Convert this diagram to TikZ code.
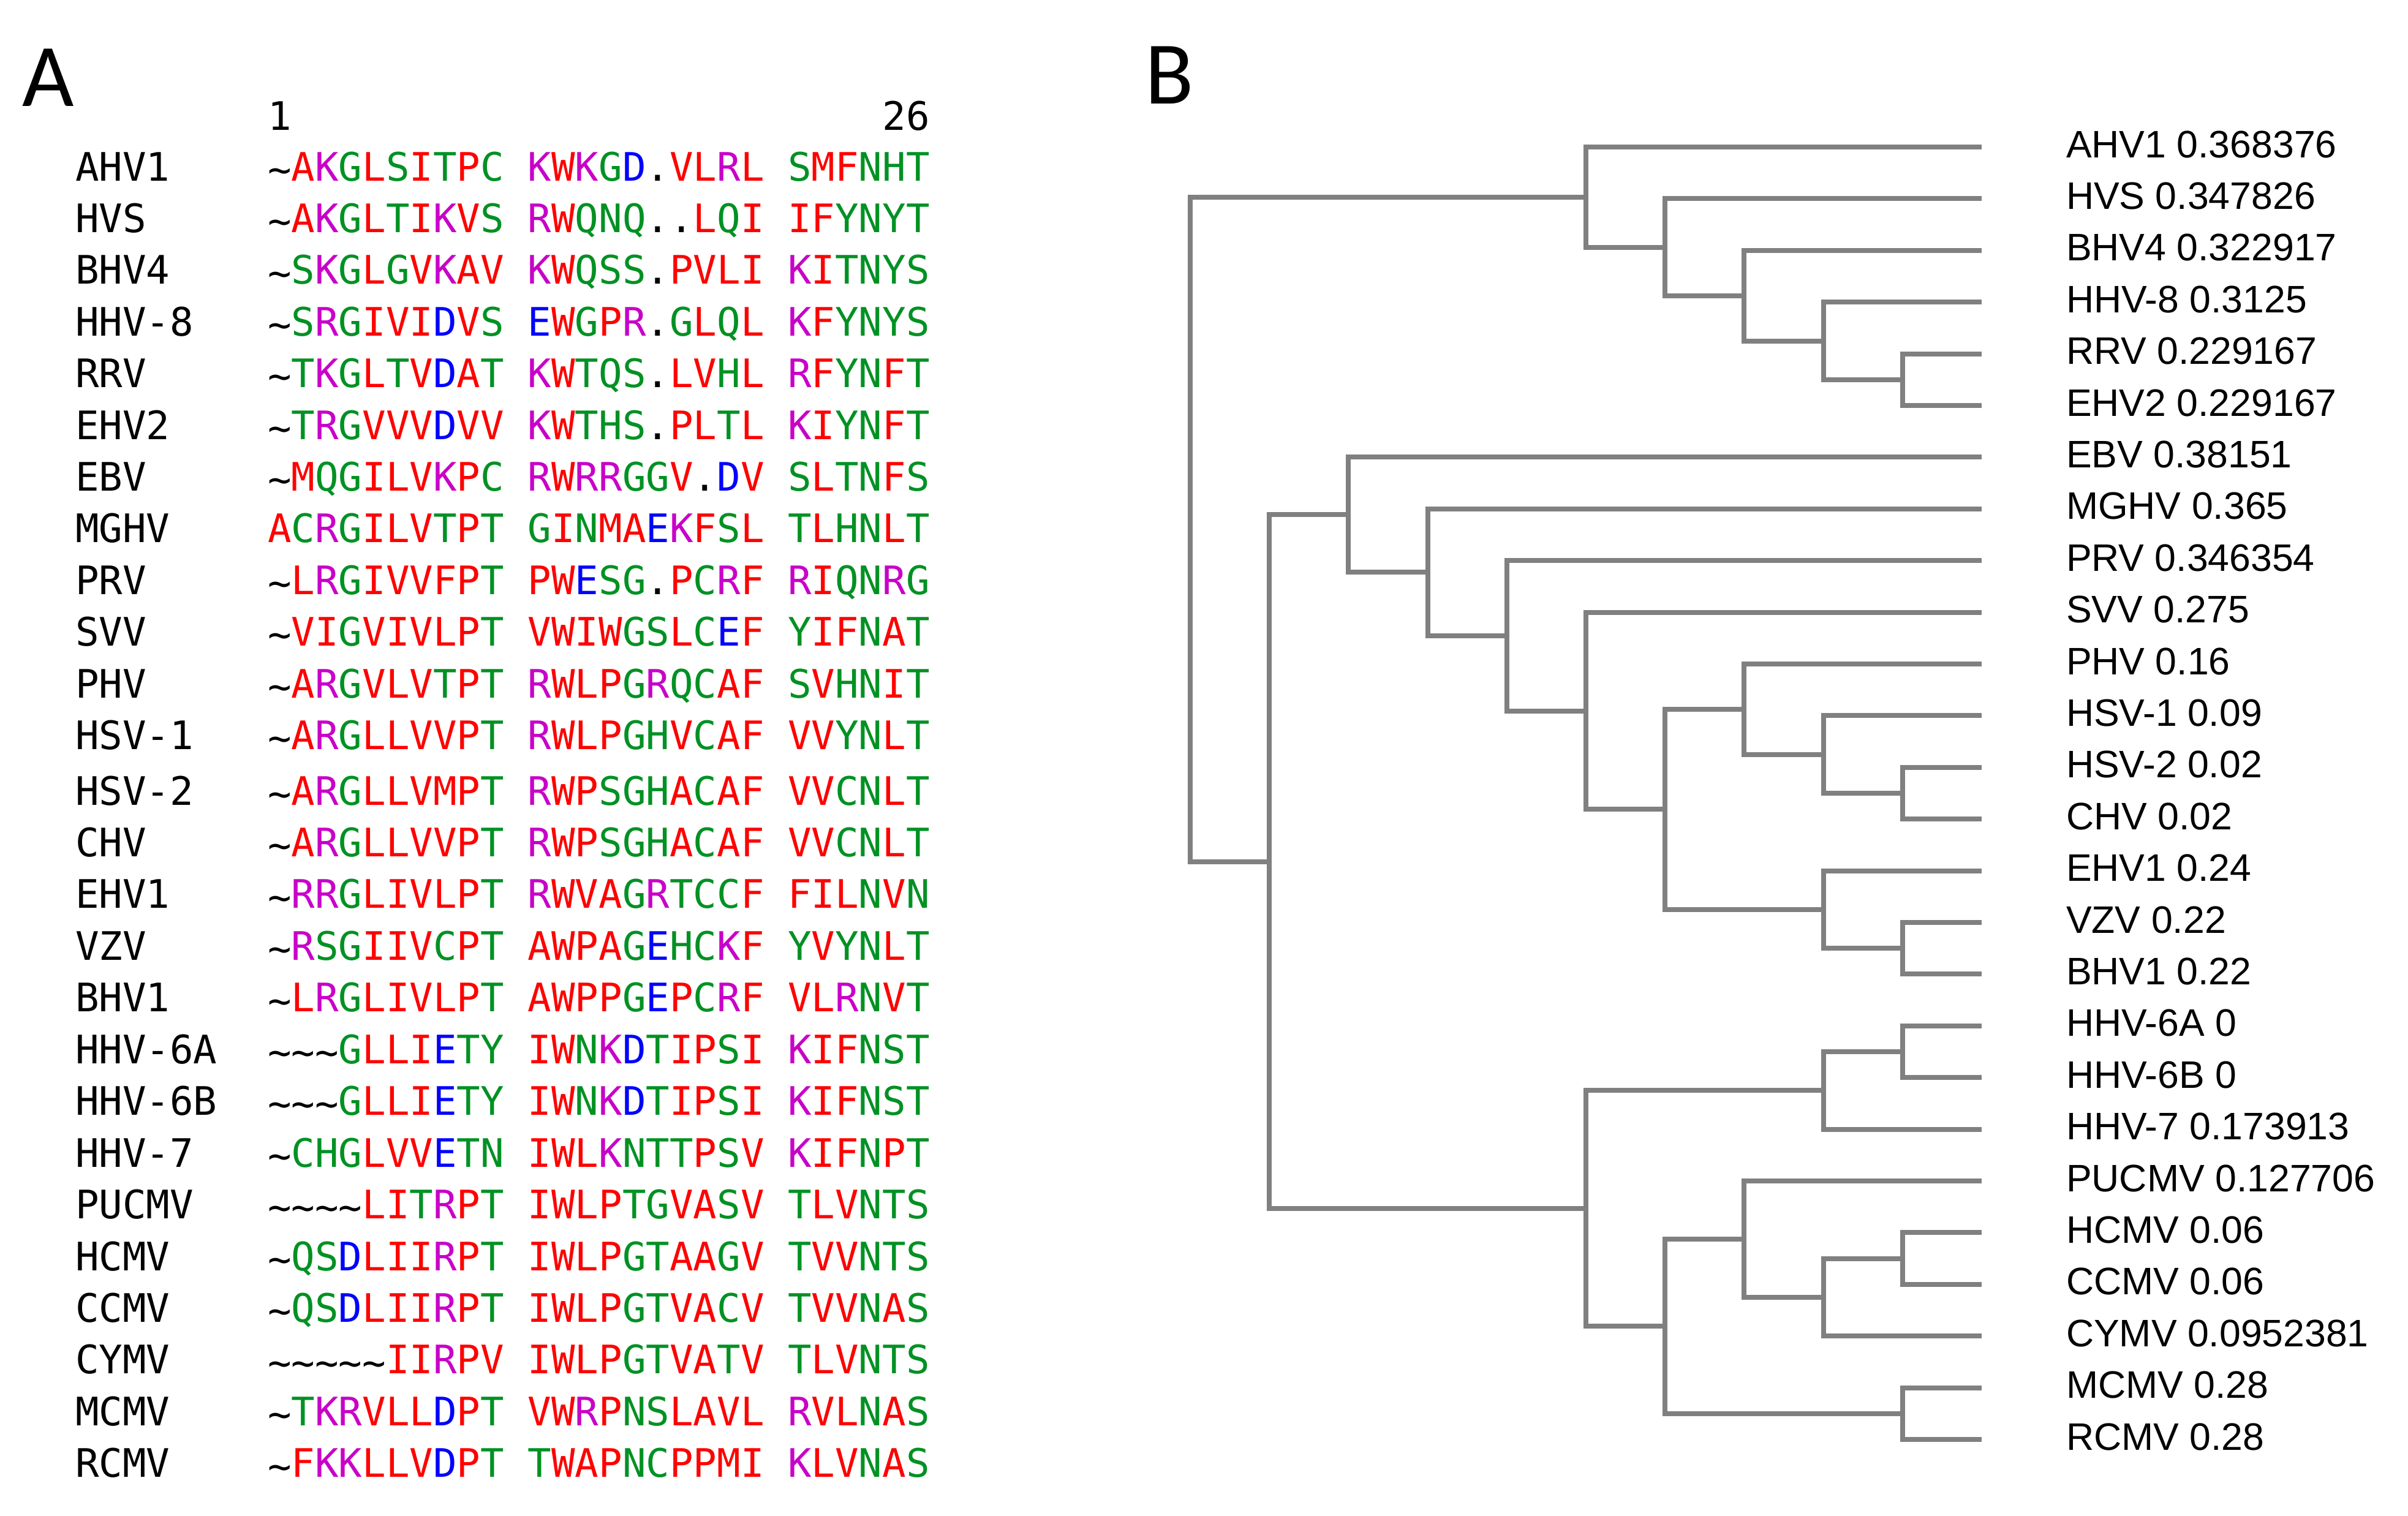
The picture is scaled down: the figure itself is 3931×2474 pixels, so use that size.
\documentclass[tikz,border=0pt]{standalone}
\usepackage{fontspec}
\newfontfamily\seqfont{DejaVu Sans Mono}
\newfontfamily\treefont{Liberation Sans}
\newfontfamily\panelfont{Carlito}
\definecolor{cred}{RGB}{255,0,0}
\definecolor{cgreen}{RGB}{0,145,35}
\definecolor{cmag}{RGB}{200,0,200}
\definecolor{cblue}{RGB}{0,0,255}
\definecolor{treegray}{RGB}{128,128,128}
\colorlet{aaA}{cred}\colorlet{aaV}{cred}\colorlet{aaF}{cred}\colorlet{aaP}{cred}
\colorlet{aaM}{cred}\colorlet{aaI}{cred}\colorlet{aaL}{cred}\colorlet{aaW}{cred}
\colorlet{aaD}{cblue}\colorlet{aaE}{cblue}
\colorlet{aaR}{cmag}\colorlet{aaK}{cmag}
\colorlet{aaS}{cgreen}\colorlet{aaT}{cgreen}\colorlet{aaY}{cgreen}\colorlet{aaH}{cgreen}
\colorlet{aaC}{cgreen}\colorlet{aaN}{cgreen}\colorlet{aaG}{cgreen}\colorlet{aaQ}{cgreen}
\newlength\cw
\setlength\cw{3.86mm}
\newcommand\cellbox[1]{\hbox to \cw{\hss#1\hss}}
\newcommand\res[1]{%
  \ifx w#1\cellbox{\raisebox{-0.12ex}{\char"7E}}%
  \else\ifx s#1\cellbox{}%
  \else\ifx .#1\cellbox{.}%
  \else\cellbox{\textcolor{aa#1}{#1}}%
  \fi\fi\fi}
\makeatletter
\newcommand\seqrow[1]{\@tfor\next:=#1\do{\expandafter\res\expandafter{\next}}}
\makeatother
\begin{document}
\begin{tikzpicture}[x=0.1mm,y=-0.1mm,
  seqtxt/.style={inner sep=0pt,outer sep=0pt,font=\seqfont\fontsize{18.24pt}{20pt}\selectfont},
  treetxt/.style={inner sep=0pt,outer sep=0pt,font=\treefont\fontsize{17.8pt}{20pt}\selectfont},
  paneltxt/.style={inner sep=0pt,outer sep=0pt,font=\panelfont\fontsize{41.5pt}{44pt}\selectfont},
  branch/.style={draw=treegray,line width=0.8mm,line join=miter}]
\useasboundingbox (0,0) rectangle (3931,2474);
% panel labels
\node[paneltxt,anchor=base west] (pA) at (36,173) {A};
\node[paneltxt,anchor=base west] (pB) at (1869,169) {B};
% ruler
\node[seqtxt,anchor=base west] (r1) at (437,212) {\cellbox{1}};
\node[seqtxt,anchor=base west] (r26) at (1440.6,212) {\cellbox{2}\cellbox{6}};
% alignment
\foreach \nm/\sq/\yy [count=\i from 0] in {
 AHV1/wAKGLSITPCsKWKGD.VLRLsSMFNHT/295,
 HVS/wAKGLTIKVSsRWQNQ..LQIsIFYNYT/379.4,
 BHV4/wSKGLGVKAVsKWQSS.PVLIsKITNYS/463.8,
 HHV-8/wSRGIVIDVSsEWGPR.GLQLsKFYNYS/548.2,
 RRV/wTKGLTVDATsKWTQS.LVHLsRFYNFT/632.6,
 EHV2/wTRGVVVDVVsKWTHS.PLTLsKIYNFT/717,
 EBV/wMQGILVKPCsRWRRGGV.DVsSLTNFS/801.4,
 MGHV/ACRGILVTPTsGINMAEKFSLsTLHNLT/885.8,
 PRV/wLRGIVVFPTsPWESG.PCRFsRIQNRG/970.2,
 SVV/wVIGVIVLPTsVWIWGSLCEFsYIFNAT/1054.6,
 PHV/wARGVLVTPTsRWLPGRQCAFsSVHNIT/1139,
 HSV-1/wARGLLVVPTsRWLPGHVCAFsVVYNLT/1223.4,
 HSV-2/wARGLLVMPTsRWPSGHACAFsVVCNLT/1314,
 CHV/wARGLLVVPTsRWPSGHACAFsVVCNLT/1398.45,
 EHV1/wRRGLIVLPTsRWVAGRTCCFsFILNVN/1482.9,
 VZV/wRSGIIVCPTsAWPAGEHCKFsYVYNLT/1567.35,
 BHV1/wLRGLIVLPTsAWPPGEPCRFsVLRNVT/1651.8,
 HHV-6A/wwwGLLIETYsIWNKDTIPSIsKIFNST/1736.25,
 HHV-6B/wwwGLLIETYsIWNKDTIPSIsKIFNST/1820.7,
 HHV-7/wCHGLVVETNsIWLKNTTPSVsKIFNPT/1905.15,
 PUCMV/wwwwLITRPTsIWLPTGVASVsTLVNTS/1989.6,
 HCMV/wQSDLIIRPTsIWLPGTAAGVsTVVNTS/2074.05,
 CCMV/wQSDLIIRPTsIWLPGTVACVsTVVNAS/2158.5,
 CYMV/wwwwwIIRPVsIWLPGTVATVsTLVNTS/2242.95,
 MCMV/wTKRVLLDPTsVWRPNSLAVLsRVLNAS/2327.4,
 RCMV/wFKKLLVDPTsTWAPNCPPMIsKLVNAS/2411.85}{
  \node[seqtxt,anchor=base west] (lab\i) at (123,\yy) {\nm};
  \node[seqtxt,anchor=base west] (seq\i) at (437,\yy) {\expandafter\seqrow\expandafter{\sq}};
}
% tree leaves and labels
\foreach \tn [count=\i from 0] in {
 AHV1 0.368376, HVS 0.347826, BHV4 0.322917, HHV-8 0.3125, RRV 0.229167,
 EHV2 0.229167, EBV 0.38151, MGHV 0.365, PRV 0.346354, SVV 0.275,
 PHV 0.16, HSV-1 0.09, HSV-2 0.02, CHV 0.02, EHV1 0.24, VZV 0.22,
 BHV1 0.22, HHV-6A 0, HHV-6B 0, HHV-7 0.173913, PUCMV 0.127706,
 HCMV 0.06, CCMV 0.06, CYMV 0.0952381, MCMV 0.28, RCMV 0.28}{
  \pgfmathsetmacro\ly{240+84.4*\i}
  \coordinate (leaf\i) at (3235,\ly);
  \node[treetxt,anchor=base west] (tl\i) at (3373,{\ly+17}) {\tn};
}
% internal nodes
\coordinate (t1) at (3105.8,619.8);
\coordinate (t2) at (2976.6,556.5);
\coordinate (t3) at (2847.4,482.65);
\coordinate (t4) at (2718.2,403.5);
\coordinate (t5) at (2589,321.8);
\coordinate (a1) at (3105.8,1295);
\coordinate (a2) at (2976.6,1231.7);
\coordinate (a3) at (2847.4,1157.85);
\coordinate (a4) at (3105.8,1548.2);
\coordinate (a5) at (2976.6,1484.9);
\coordinate (a6) at (2718.2,1321.4);
\coordinate (a7) at (2589,1160.5);
\coordinate (a8) at (2459.8,1037.85);
\coordinate (a9) at (2330.6,934.3);
\coordinate (a10) at (2201.4,840.35);
\coordinate (b1) at (3105.8,1717);
\coordinate (b2) at (2976.6,1780.3);
\coordinate (b3) at (3105.8,2054.6);
\coordinate (b4) at (2976.6,2117.9);
\coordinate (b5) at (2847.4,2022.95);
\coordinate (b6) at (3105.8,2307.8);
\coordinate (b7) at (2718.2,2165.4);
\coordinate (b8) at (2589,1972.85);
\coordinate (c1) at (2072.2,1406.6);
\coordinate (root) at (1943,864.2);
% branches
\draw[branch] (leaf4) -| (t1) |- (leaf5);
\draw[branch] (leaf3) -| (t2) |- (t1);
\draw[branch] (leaf2) -| (t3) |- (t2);
\draw[branch] (leaf1) -| (t4) |- (t3);
\draw[branch] (leaf0) -| (t5) |- (t4);
\draw[branch] (t5) -| (root) |- (c1);
\draw[branch] (a10) -| (c1) |- (b8);
\draw[branch] (leaf6) -| (a10) |- (a9);
\draw[branch] (leaf7) -| (a9) |- (a8);
\draw[branch] (leaf8) -| (a8) |- (a7);
\draw[branch] (leaf9) -| (a7) |- (a6);
\draw[branch] (a3) -| (a6) |- (a5);
\draw[branch] (leaf10) -| (a3) |- (a2);
\draw[branch] (leaf11) -| (a2) |- (a1);
\draw[branch] (leaf12) -| (a1) |- (leaf13);
\draw[branch] (leaf14) -| (a5) |- (a4);
\draw[branch] (leaf15) -| (a4) |- (leaf16);
\draw[branch] (b2) -| (b8) |- (b7);
\draw[branch] (b1) -| (b2) |- (leaf19);
\draw[branch] (leaf17) -| (b1) |- (leaf18);
\draw[branch] (b5) -| (b7) |- (b6);
\draw[branch] (leaf20) -| (b5) |- (b4);
\draw[branch] (b3) -| (b4) |- (leaf23);
\draw[branch] (leaf21) -| (b3) |- (leaf22);
\draw[branch] (leaf24) -| (b6) |- (leaf25);
\end{tikzpicture}
\end{document}
